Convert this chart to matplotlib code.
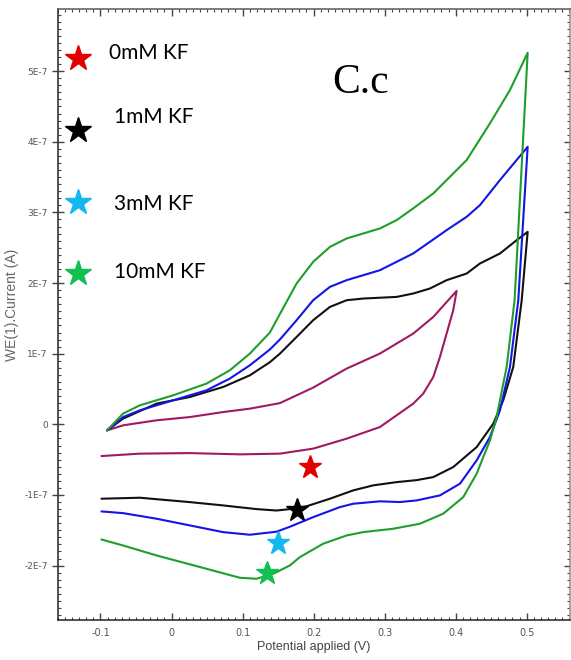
import numpy as np
import matplotlib.pyplot as plt
from matplotlib.ticker import MultipleLocator

# cyclic voltammograms, potential (V) and current (units of 1E-7 A)
v_0mM = [-0.0907, -0.0682, -0.0211, 0.0258, 0.0727, 0.1103, 0.1525, 0.1994, 0.2465, 0.2934, 0.3403, 0.3685, 0.4014,
         0.3966, 0.3873, 0.3779, 0.3685, 0.3544, 0.3403, 0.2934, 0.2465, 0.1994, 0.1525, 0.0962, 0.0258, -0.0446, -0.0986]
i_0mM = [-0.085, -0.014, 0.057, 0.103, 0.174, 0.222, 0.30, 0.52, 0.789, 1.002, 1.285, 1.520, 1.889,
         1.615, 1.285, 0.954, 0.670, 0.435, 0.293, -0.038, -0.203, -0.344, -0.415, -0.425, -0.407, -0.415, -0.449]

v_1mM = [-0.0907, -0.0682, -0.0211, 0.0258, 0.0727, 0.1103, 0.1385, 0.1525, 0.1761, 0.1994, 0.223, 0.2465, 0.2699,
         0.3169, 0.3403, 0.3638, 0.3873, 0.4155, 0.4342, 0.4624, 0.4859, 0.5014,
         0.4930, 0.4811, 0.4670, 0.4530, 0.4296, 0.3966, 0.3685, 0.345, 0.3169, 0.2839, 0.2558, 0.223, 0.1901,
         0.1666, 0.1479, 0.1197, 0.0727, 0.0258, -0.0446, -0.0986]
i_1mM = [-0.085, 0.081, 0.293, 0.387, 0.529, 0.694, 0.880, 1.00, 1.237, 1.474, 1.662, 1.757, 1.781,
         1.804, 1.852, 1.923, 2.041, 2.135, 2.277, 2.419, 2.607, 2.725,
         1.757, 0.812, 0.340, 0.010, -0.322, -0.605, -0.747, -0.79, -0.818, -0.864, -0.935, -1.053, -1.16,
         -1.20, -1.22, -1.20, -1.148, -1.101, -1.039, -1.053]

v_3mM = [-0.0907, -0.0682, -0.0446, 0.0023, 0.0493, 0.0821, 0.1103, 0.1385, 0.1525, 0.1761, 0.1994, 0.223, 0.2465,
         0.2934, 0.3403, 0.3873, 0.4155, 0.4342, 0.4624, 0.5014,
         0.4882, 0.4765, 0.4624, 0.4483, 0.4296, 0.4061, 0.3779, 0.3451, 0.3215, 0.2934, 0.2558, 0.2370, 0.1994,
         0.1666, 0.1479, 0.1103, 0.0727, 0.0258, -0.0211, -0.0682, -0.0986]
i_3mM = [-0.085, 0.103, 0.198, 0.340, 0.482, 0.648, 0.836, 1.06, 1.20, 1.474, 1.757, 1.946, 2.041,
         2.182, 2.419, 2.749, 2.938, 3.103, 3.458, 3.929,
         1.757, 0.812, 0.198, -0.180, -0.510, -0.840, -1.006, -1.077, -1.10, -1.09, -1.124, -1.172, -1.314,
         -1.45, -1.52, -1.563, -1.526, -1.431, -1.336, -1.257, -1.233]

v_10mM = [-0.0907, -0.0682, -0.0446, 0.0023, 0.0493, 0.0821, 0.1103, 0.1385, 0.1525, 0.1761, 0.1994, 0.223, 0.2465,
          0.2699, 0.2934, 0.3169, 0.3403, 0.3685, 0.4155, 0.4483, 0.4765, 0.5014,
          0.4830, 0.4718, 0.4577, 0.4483, 0.4296, 0.4107, 0.3825, 0.3497, 0.3121, 0.2699, 0.2465, 0.2135, 0.1807,
          0.1666, 0.1431, 0.1197, 0.0962, 0.0493, -0.0211, -0.0682, -0.0986]
i_10mM = [-0.085, 0.152, 0.269, 0.411, 0.577, 0.765, 1.002, 1.30, 1.56, 1.994, 2.300, 2.512, 2.631,
          2.702, 2.773, 2.891, 3.057, 3.269, 3.741, 4.261, 4.733, 5.261,
          1.757, 0.812, 0.103, -0.227, -0.699, -1.030, -1.265, -1.407, -1.478, -1.526, -1.573, -1.690, -1.880,
          -1.998, -2.116, -2.186, -2.172, -2.045, -1.856, -1.715, -1.630]

# star markers on the reduction peaks
star_v = [0.1949, 0.1765, 0.1497, 0.1342]
star_i = [-0.609, -1.218, -1.686, -2.111]
star_labels = ['0mM KF', '1mM KF', '3mM KF', '10mM KF']
star_colors = ['#e00000', '#000000', '#14b8f0', '#10c050']

x_ticks = [-0.1, 0, 0.1, 0.2, 0.3, 0.4, 0.5]
x_ticklabels = ['-0.1', '0', '0.1', '0.2', '0.3', '0.4', '0.5']
y_ticks = [-2, -1, 0, 1, 2, 3, 4, 5]
y_ticklabels = ['-2E-7', '-1E-7', '0', '1E-7', '2E-7', '3E-7', '4E-7', '5E-7']

fig = plt.figure(figsize=(5.71, 6.60), dpi=100)
ax = fig.add_axes([57.5 / 571, 1 - 620 / 660, (570 - 57.5) / 571, (620 - 9) / 660])

curves = [(v_0mM, i_0mM, '#a01a62'), (v_1mM, i_1mM, '#111111'),
          (v_3mM, i_3mM, '#1414e6'), (v_10mM, i_10mM, '#1e9e2a')]
for v, i, c in curves:
    ax.plot(np.array(v), np.array(i) * 1e-7, color=c, lw=1.5, zorder=2,
            solid_joinstyle='round', solid_capstyle='round')

for v, i, c in zip(star_v, star_i, star_colors):
    ax.plot(v, i * 1e-7, marker='*', ms=17, color=c, mec=c, ls='none', zorder=3)

# hand made legend
leg_y = [58, 130, 202, 273]
txt_x = [109, 114, 114, 114]
txt_y = [53, 117, 204, 272]
for k in range(4):
    fig.lines.append(plt.Line2D([78 / 571], [1 - leg_y[k] / 660], marker='*', ms=19, color=star_colors[k],
                                ls='none', transform=fig.transFigure))
    fig.text(txt_x[k] / 571, 1 - txt_y[k] / 660, star_labels[k], fontsize=15, family='Lato',
             va='center', ha='left', color='black')

fig.text(332 / 571, 1 - 93 / 660, 'C.c', fontsize=30, family='Liberation Serif', va='baseline', ha='left')

ax.set_xlim(-0.1605, 0.561)
ax.set_ylim(-2.77e-7, 5.88e-7)
ax.set_xticks(x_ticks)
ax.set_xticklabels(x_ticklabels)
ax.set_yticks(np.array(y_ticks) * 1e-7)
ax.set_yticklabels(y_ticklabels)
ax.xaxis.set_minor_locator(MultipleLocator(0.01))
ax.yaxis.set_minor_locator(MultipleLocator(0.1e-7))
ax.tick_params(which='major', direction='in', length=5, width=1, color='#444444', top=True, right=True)
ax.tick_params(which='minor', direction='in', length=2, width=0.8, color='#444444', top=True, right=True)
ax.tick_params(axis='y', which='major', direction='inout', length=8)
ax.tick_params(axis='x', labelsize=7, labelcolor='#555555', pad=6)
ax.tick_params(axis='y', labelsize=6.5, labelcolor='#555555', pad=3)
for s in ax.spines.values():
    s.set_color('#333333')
    s.set_linewidth(1.2)
ax.spines['right'].set_color('#999999')
ax.spines['top'].set_color('#666666')

ax.set_xlabel('Potential applied (V)', fontsize=9, color='#444444', family='Liberation Sans', labelpad=2)
fig.text(12 / 571, 1 - 305 / 660, 'WE(1).Current (A)', fontsize=10, color='#666666',
         family='Liberation Sans', rotation=90, ha='center', va='center')

plt.savefig('out.png', dpi=100)
